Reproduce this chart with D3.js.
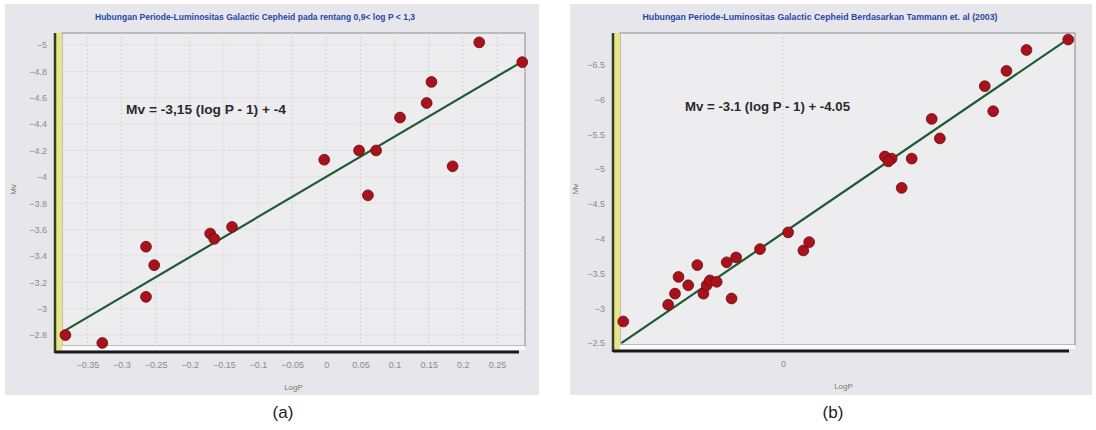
<!DOCTYPE html>
<html>
<head>
<meta charset="utf-8">
<script src="https://cdn.jsdelivr.net/npm/d3@7"></script>
<style>
  body { margin: 0; background: #fff; }
  svg { display: block; font-family: "Liberation Sans", Arial, sans-serif; }
  .tick text { fill: #8a8a8a; font-size: 9px; }
</style>
</head>
<body>
<svg id="chart" width="1096" height="430"></svg>
<script>
// panel (a) data: log P vs Mv
var logPA = [-0.382, -0.328, -0.264, -0.252, -0.264, -0.170, -0.164, -0.138, -0.003, 0.048, 0.073, 0.061, 0.108, 0.147, 0.154, 0.185, 0.224, 0.287];
var mvA   = [-2.80, -2.74, -3.47, -3.33, -3.09, -3.57, -3.53, -3.62, -4.13, -4.20, -4.20, -3.86, -4.45, -4.56, -4.72, -4.08, -5.02, -4.87];
var fitA  = [[-0.389, -2.815], [0.293, -4.893]];
var xTicksA = [-0.35, -0.3, -0.25, -0.2, -0.15, -0.1, -0.05, 0, 0.05, 0.1, 0.15, 0.2, 0.25];
var yTicksA = [-5, -4.8, -4.6, -4.4, -4.2, -4, -3.8, -3.6, -3.4, -3.2, -3, -2.8];

// panel (b) data
var logPB = [-0.494, -0.355, -0.334, -0.323, -0.293, -0.265, -0.246, -0.236, -0.226, -0.205, -0.174, -0.145, -0.159, -0.071, 0.016, 0.063, 0.081, 0.315, 0.336, 0.326, 0.367, 0.398, 0.460, 0.485, 0.624, 0.650, 0.691, 0.753, 0.882];
var mvB   = [-2.81, -3.05, -3.21, -3.45, -3.33, -3.62, -3.21, -3.33, -3.40, -3.38, -3.66, -3.73, -3.14, -3.85, -4.09, -3.83, -3.95, -5.18, -5.15, -5.11, -4.73, -5.15, -5.72, -5.44, -6.19, -5.83, -6.41, -6.71, -6.86];
var fitB  = [[-0.50, -2.50], [0.87, -6.83]];
var xTicksB = [0];
var yTicksB = [-6.5, -6, -5.5, -5, -4.5, -4, -3.5, -3, -2.5];

var svg = d3.select("#chart");

function drawPanel(p) {
    var g = svg.append("g");

    // scanned grey background
    g.append("rect")
        .attr("x", p.bg[0]).attr("y", p.bg[1])
        .attr("width", p.bg[2]).attr("height", p.bg[3])
        .attr("fill", "#e7e7eb");

    var x = d3.scaleLinear().domain(p.xDomain).range([p.left, p.right]);
    var y = d3.scaleLinear().domain(p.yDomain).range([p.top, p.bottom]);

    // plot face
    g.append("rect")
        .attr("x", p.left).attr("y", p.top)
        .attr("width", p.right - p.left).attr("height", p.bottom - p.top)
        .attr("fill", "#ededf0")
        .attr("stroke", "#9a9a9a").attr("stroke-width", 1.2);

    // faint grid
    g.selectAll(".vgrid").data(p.xTicks)
        .enter().append("line")
        .attr("x1", function (d) { return x(d); }).attr("x2", function (d) { return x(d); })
        .attr("y1", p.top).attr("y2", p.bottom)
        .attr("stroke", "#d2d2d8").attr("stroke-dasharray", "2,2");
    g.selectAll(".hgrid").data(p.grid ? p.yTicks : [])
        .enter().append("line")
        .attr("x1", p.left).attr("x2", p.right)
        .attr("y1", function (d) { return y(d); }).attr("y2", function (d) { return y(d); })
        .attr("stroke", "#e0e0e6");

    // yellow left wall + dark edge
    g.append("rect")
        .attr("x", p.left - 7).attr("y", p.top)
        .attr("width", 7).attr("height", p.bottom - p.top + 7)
        .attr("fill", "#e9e38a");
    g.append("line")
        .attr("x1", p.left - 7).attr("x2", p.left - 7)
        .attr("y1", p.top).attr("y2", p.bottom + 7)
        .attr("stroke", "#2f3f22").attr("stroke-width", 2.5);
    // floor: white strip + black bar
    g.append("rect")
        .attr("x", p.left).attr("y", p.bottom)
        .attr("width", p.right - p.left).attr("height", 4)
        .attr("fill", "#fafafa");
    g.append("line")
        .attr("x1", p.left - 7).attr("x2", p.right - 6)
        .attr("y1", p.bottom + 6).attr("y2", p.bottom + 6)
        .attr("stroke", "#1a1a1a").attr("stroke-width", 3);

    // axes (labels only)
    var ax = g.append("g")
        .attr("transform", "translate(0," + (p.bottom + 8) + ")")
        .call(d3.axisBottom(x).tickValues(p.xTicks).tickSize(0).tickPadding(8)
            .tickFormat(function (d) { return d === 0 ? "0" : d3.format("")(d); }));
    ax.select(".domain").remove();
    var ay = g.append("g")
        .attr("transform", "translate(" + (p.left - 9) + ",0)")
        .call(d3.axisLeft(y).tickValues(p.yTicks).tickSize(0).tickPadding(6)
            .tickFormat(d3.format("")));
    ay.select(".domain").remove();

    g.append("text")
        .attr("x", (p.left + p.right) / 2 + p.xLabelDx).attr("y", p.bottom + 44)
        .attr("text-anchor", "middle").attr("font-size", 8).attr("fill", "#777")
        .text("LogP");
    g.append("text")
        .attr("transform", "translate(" + p.yLabelX + "," + ((p.top + p.bottom) / 2) + ") rotate(-90)")
        .attr("text-anchor", "middle").attr("font-size", 8).attr("fill", "#777")
        .text("Mv");

    // title
    g.append("text")
        .attr("x", p.titleX).attr("y", 20)
        .attr("text-anchor", "middle").attr("font-size", 8.5).attr("font-weight", "bold")
        .attr("fill", "#2a45a8")
        .attr("textLength", p.titleLen).attr("lengthAdjust", "spacingAndGlyphs")
        .text(p.title);

    // fit line
    g.append("line")
        .attr("x1", x(p.fit[0][0])).attr("y1", y(p.fit[0][1]))
        .attr("x2", x(p.fit[1][0])).attr("y2", y(p.fit[1][1]))
        .attr("stroke", "#1f5a32").attr("stroke-width", 2.2);

    // points
    var pts = p.xs.map(function (v, i) { return { x: v, y: p.ys[i] }; });
    g.selectAll(".dot").data(pts)
        .enter().append("circle")
        .attr("cx", function (d) { return x(d.x); })
        .attr("cy", function (d) { return y(d.y); })
        .attr("r", 5.4)
        .attr("fill", "#a9121a")
        .attr("stroke", "#6a0b10").attr("stroke-width", 0.8);

    // equation
    g.append("text")
        .attr("x", p.eqX).attr("y", p.eqY)
        .attr("font-size", 12).attr("font-weight", "bold").attr("fill", "#2a2a2a")
        .attr("textLength", p.eqLen).attr("lengthAdjust", "spacingAndGlyphs")
        .text(p.eq);

    // caption
    svg.append("text")
        .attr("x", p.capX).attr("y", 418)
        .attr("text-anchor", "middle").attr("font-size", 17).attr("fill", "#222")
        .text(p.caption);
}

drawPanel({
    bg: [5, 4, 534, 391],
    left: 62, right: 525, top: 33, bottom: 346,
    xDomain: [-0.387, 0.291], yDomain: [-5.091, -2.717],
    xTicks: xTicksA, yTicks: yTicksA, grid: true,
    xs: logPA, ys: mvA, fit: fitA,
    title: "Hubungan Periode-Luminositas Galactic Cepheid pada rentang 0,9< log P < 1,3",
    titleX: 255, titleLen: 320,
    eq: "Mv = -3,15 (log P - 1) + -4", eqX: 126, eqY: 114, eqLen: 160,
    xLabelDx: 0, yLabelX: 16,
    caption: "(a)", capX: 283
});

drawPanel({
    bg: [570, 4, 522, 391],
    left: 620, right: 1075, top: 33, bottom: 345,
    xDomain: [-0.504, 0.903], yDomain: [-6.954, -2.472],
    xTicks: xTicksB, yTicks: yTicksB, grid: false,
    xs: logPB, ys: mvB, fit: fitB,
    title: "Hubungan Periode-Luminositas Galactic Cepheid Berdasarkan Tammann et. al (2003)",
    titleX: 820, titleLen: 355,
    eq: "Mv = -3.1 (log P - 1) + -4.05", eqX: 685, eqY: 111, eqLen: 165,
    xLabelDx: -4, yLabelX: 578,
    caption: "(b)", capX: 833
});
</script>
</body>
</html>
